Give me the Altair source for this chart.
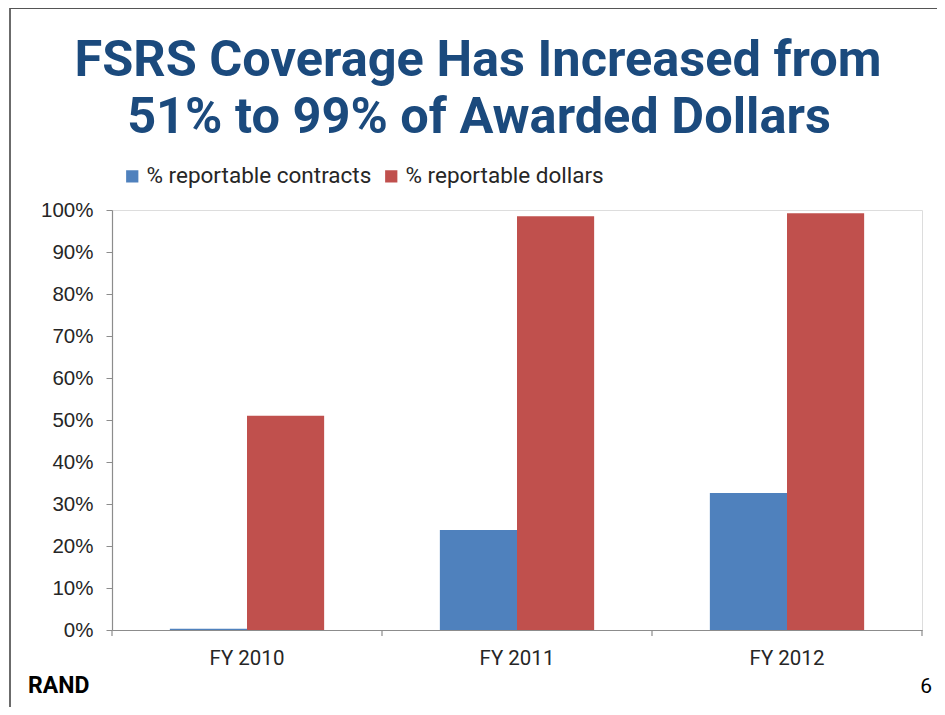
import altair as alt
import pandas as pd

categories = ["FY 2010", "FY 2011", "FY 2012"]
series = ["% reportable contracts", "% reportable dollars"]
contracts = [0.3, 23.8, 32.6]
dollars = [51.0, 98.5, 99.2]
colors = ["#4F81BD", "#C0504D"]
title_lines = ["FSRS Coverage Has Increased from", "51% to 99% of Awarded Dollars"]

rows = []
for c, a, b in zip(categories, contracts, dollars):
    rows.append({"cat": c, "series": series[0], "value": a})
    rows.append({"cat": c, "series": series[1], "value": b})
df = pd.DataFrame(rows)

NARROW = "Roboto, sans-serif"
SANS = "Liberation Sans, Arial, sans-serif"

W, H = 810, 420

xscale = alt.Scale(domain=categories, paddingInner=0, paddingOuter=0)

bars = alt.Chart(df).mark_bar().encode(
    x=alt.X("cat:N", scale=xscale, sort=categories,
            axis=alt.Axis(title=None, ticks=False, labelAngle=0, labelFont=NARROW,
                          labelFontSize=20.5, labelColor="#262626", labelPadding=18,
                          domainColor="#8C8C8C", domainWidth=1.2)),
    xOffset=alt.XOffset("series:N", sort=series,
                        scale=alt.Scale(paddingInner=0, paddingOuter=0.75)),
    y=alt.Y("value:Q", scale=alt.Scale(domain=[0, 100], nice=False),
            axis=alt.Axis(title=None, values=list(range(0, 101, 10)), grid=False,
                          labelExpr="datum.value + '%'", labelFont=SANS,
                          labelFontSize=20.5, labelColor="#262626", labelPadding=13,
                          tickSize=6, tickColor="#8C8C8C", domainColor="#8C8C8C",
                          domainWidth=1.2)),
    color=alt.Color("series:N", sort=series,
                    scale=alt.Scale(domain=series, range=colors),
                    legend=alt.Legend(title=None, orient="none", legendX=9, legendY=-45,
                                      direction="horizontal", symbolType="square",
                                      symbolSize=150, symbolStrokeWidth=0,
                                      labelFont=NARROW, labelFontSize=22.5, labelLimit=400,
                                      labelColor="#262626", columnPadding=8,
                                      symbolOffset=0, labelOffset=3)),
)

tick_df = pd.DataFrame({"cat": categories})
ticks = alt.Chart(tick_df).mark_rule(color="#8C8C8C", strokeWidth=1.2).encode(
    x=alt.X("cat:N", scale=xscale, sort=categories, bandPosition=0),
    y=alt.value(H), y2=alt.value(H + 6),
)
end_tick = alt.Chart(tick_df.head(1)).mark_rule(color="#8C8C8C", strokeWidth=1.2).encode(
    x=alt.value(W), y=alt.value(H), y2=alt.value(H + 6),
)

title_df = pd.DataFrame({"t": title_lines, "row": [0, 1]})
title1 = alt.Chart(title_df.iloc[[0]]).mark_text(
    font=NARROW, fontSize=50.5, fontWeight="bold", color="#1B4A7D",
    align="center", baseline="alphabetic").encode(
    text="t:N", x=alt.value(366), y=alt.value(-134))
title2 = alt.Chart(title_df.iloc[[1]]).mark_text(
    font=NARROW, fontSize=50.5, fontWeight="bold", color="#1B4A7D",
    align="center", baseline="alphabetic").encode(
    text="t:N", x=alt.value(367), y=alt.value(-77))

one = pd.DataFrame({"t": ["RAND"]})
rand = alt.Chart(one).mark_text(font=NARROW, fontSize=23, fontWeight="bold",
                                align="left", baseline="middle", color="#000000").encode(
    text="t:N", x=alt.value(-84), y=alt.value(476))
page = alt.Chart(pd.DataFrame({"t": ["6"]})).mark_text(font=NARROW, fontSize=21,
                                align="right", baseline="middle", color="#000000").encode(
    text="t:N", x=alt.value(820), y=alt.value(477))

frame_left = alt.Chart(one).mark_rule(color="#3A3A3A", strokeWidth=1.5).encode(
    x=alt.value(-102), y=alt.value(-203), y2=alt.value(498))
frame_top = alt.Chart(one).mark_rule(color="#555555", strokeWidth=2).encode(
    x=alt.value(-102), x2=alt.value(833), y=alt.value(-202))
frame_bottom = alt.Chart(one).mark_rule(color="#3A3A3A", strokeWidth=1.5).encode(
    x=alt.value(-102), x2=alt.value(833), y=alt.value(498))
shadow = alt.Chart(one).mark_rule(color="#BDBDBD", strokeWidth=5).encode(
    x=alt.value(-98), x2=alt.value(833), y=alt.value(502.5))

chart = alt.layer(
    frame_left, frame_top, frame_bottom, shadow, bars, ticks, end_tick,
    title1, title2, rand, page
).properties(
    width=W, height=H,
    autosize=alt.AutoSizeParams(type="none"),
    padding={"left": 104, "top": 202, "right": 15, "bottom": 77},
).configure_view(stroke=None).configure(background="white")

chart.save("out.html", embed_options={"renderer": "svg", "actions": False})
